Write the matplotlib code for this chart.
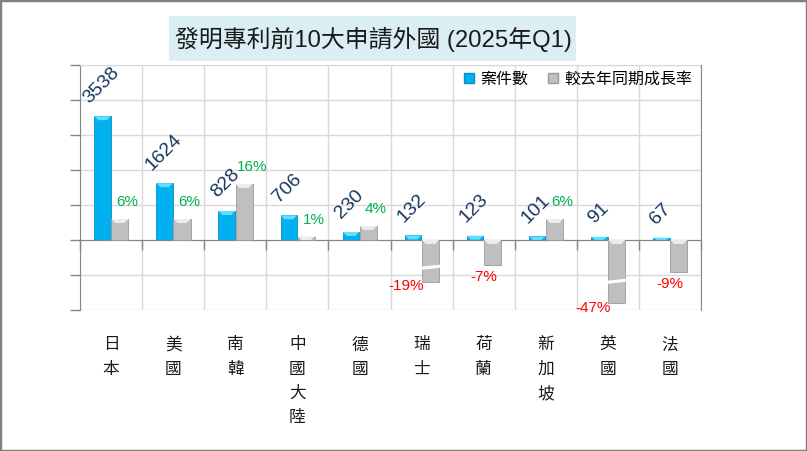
import matplotlib
matplotlib.use("Agg")
import matplotlib.pyplot as plt
import matplotlib.transforms as mtransforms
from matplotlib.patches import Polygon, Rectangle, Patch
import numpy as np

plt.rcParams['font.family'] = ['Liberation Sans', 'Noto Sans CJK TC', 'DejaVu Sans']

# data
countries = ['日本', '美國', '南韓', '中國大陸', '德國', '瑞士', '荷蘭', '新加坡', '英國', '法國']
cases = [3538, 1624, 828, 706, 230, 132, 123, 101, 91, 67]
growth = [6, 6, 16, 1, 4, -19, -7, 6, -47, -9]   # %

title = '發明專利前10大申請外國 (2025年Q1)'
legend_labels = ['案件數', '較去年同期成長率']

# broken-axis settings for the growth bars: below BREAK the bar is squeezed
BREAK = -10
SQUEEZE = 0.22

BLUE = '#00b0f0'
BLUE_TOP = '#5fe0ff'
GRAY = '#bfbfbf'
GRAY_TOP = '#ececec'
AXIS_GRAY = '#868686'
GRID = '#d9d9d9'

xs = np.arange(len(countries))
cases = np.array(cases)
growth = np.array(growth, dtype=float)
shown = np.where(growth < BREAK, BREAK + (growth - BREAK) * SQUEEZE, growth)

fig = plt.figure(figsize=(8.07, 4.51), dpi=100)
ax = fig.add_axes([80/807, 141/451, 621/807, 245/451])
ax2 = ax.twinx()

ax.set_xlim(-0.5, len(countries) - 0.5)
ax.set_ylim(-2000, 5000)
ax2.set_ylim(-20, 50)


def bevel(axis, rects, color, depth_px=4):
    # light top edge like the excel "bevel" bars
    p0 = axis.transData.transform((0, 0))
    p1 = axis.transData.transform((1, 1))
    sx, sy = p1[0] - p0[0], p1[1] - p0[1]
    for r in rects:
        x0, w = r.get_x(), r.get_width()
        y0, h = r.get_y(), r.get_height()
        top = max(y0, y0 + h)
        d = min(depth_px / sy, abs(h))
        dx = min(depth_px / sx, w / 2)
        poly = [(x0, top), (x0 + w, top), (x0 + w - dx, top - d), (x0 + dx, top - d)]
        axis.add_patch(Polygon(poly, closed=True, fc=color, ec='none', zorder=r.get_zorder() + 0.1))


w = 0.265
b1 = ax.bar(xs - w/2 - 0.005, cases, width=w, color=BLUE, edgecolor='#0a8fc4', linewidth=0.6, zorder=3)
b2 = ax2.bar(xs + w/2 + 0.01, shown, width=w + 0.01, color=GRAY, edgecolor='#9a9a9a', linewidth=0.6, zorder=3)
bevel(ax, b1, BLUE_TOP)
bevel(ax2, b2, GRAY_TOP)

# break marks on the squeezed bars
for i in np.where(growth < BREAK)[0]:
    r = b2[i]
    xl, xr = r.get_x() - 0.02, r.get_x() + r.get_width() + 0.02
    yb = shown[i] * 0.65
    t, s = 0.9, 0.3
    ax2.add_patch(Polygon([(xl, yb - s - t/2), (xr, yb + s - t/2), (xr, yb + s + t/2), (xl, yb - s + t/2)],
                          closed=True, fc='white', ec='none', zorder=4))

# count labels
for x, v in zip(xs, cases):
    ax.annotate(f'{v}', (x - w/2, v), xytext=(-1, 7), textcoords='offset points',
                rotation=45, ha='center', va='bottom', fontsize=14, color='#17375e', zorder=5)

# growth labels
for i, (g, s) in enumerate(zip(growth, shown)):
    xg = xs[i] + w/2
    if g >= 0:
        ax2.annotate(f'{g:.0f}%', (xg, s), xytext=(6, 7), textcoords='offset points',
                     ha='center', va='bottom', fontsize=11, color='#00b050', zorder=5)
    elif g < BREAK:
        ax2.annotate(f'{g:.0f}%', (xg, s), xytext=(-4, -3), textcoords='offset points',
                     ha='right', va='center', fontsize=11, color='#ff0000', zorder=5)
    else:
        ax2.annotate(f'{g:.0f}%', (xg, s), xytext=(-6, -4), textcoords='offset points',
                     ha='center', va='top', fontsize=11, color='#ff0000', zorder=5)

# category labels, written top to bottom
trans = mtransforms.blended_transform_factory(ax.transData, ax.transAxes)
for x, name in zip(xs, countries):
    for j, ch in enumerate(name):
        ax.annotate(ch, (x, 0), xycoords=trans, xytext=(0, -19.5 - j * 17.6), textcoords='offset points',
                    ha='center', va='top', fontsize=12, color='#1a1a1a', annotation_clip=False)

# axes styling
ax.set_yticks(np.arange(-2000, 5001, 1000))
ax.set_yticklabels([])
ax.set_xticks(np.arange(-0.5, len(countries), 1))
ax.set_xticklabels([])
ax.tick_params(axis='y', direction='out', length=7, color=AXIS_GRAY, width=1)
ax.tick_params(axis='x', direction='out', length=7, color=AXIS_GRAY, width=1)
ax.grid(True, color=GRID, linewidth=1)
ax.set_axisbelow(True)
ax.spines['bottom'].set_position(('data', 0))
ax.spines['bottom'].set_color(AXIS_GRAY)
ax.spines['bottom'].set_zorder(4)
ax.spines['left'].set_color(AXIS_GRAY)
ax.spines['top'].set_color(GRID)
ax.spines['right'].set_visible(False)
for side in ['left', 'top', 'bottom']:
    ax2.spines[side].set_visible(False)
ax2.spines['right'].set_color(AXIS_GRAY)
ax2.set_yticks([])

handles = [Patch(fc=BLUE, ec='#0a8fc4'), Patch(fc=GRAY, ec='#9a9a9a')]
ax2.legend(handles, legend_labels, loc='center right', bbox_to_anchor=(0.986, 0.943), frameon=False,
           fontsize=11.5, handlelength=0.65, handleheight=0.65, handletextpad=0.4, columnspacing=1.2,
           ncol=2, borderpad=0, borderaxespad=0)

# title with the pale blue box
fig.add_artist(Rectangle((169/807, 1 - 61/451), 407/807, 45/451, transform=fig.transFigure,
                         fc='#daeef3', ec='none'))
fig.text(373/807, 1 - 39.5/451, title, ha='center', va='center', fontsize=17.2, color='#1a1a1a')

# outer frame
fig.add_artist(Rectangle((0, 0), 1, 1, transform=fig.transFigure, fill=False, ec='#808080', lw=2.5))

fig.savefig('out.png', dpi=100)
